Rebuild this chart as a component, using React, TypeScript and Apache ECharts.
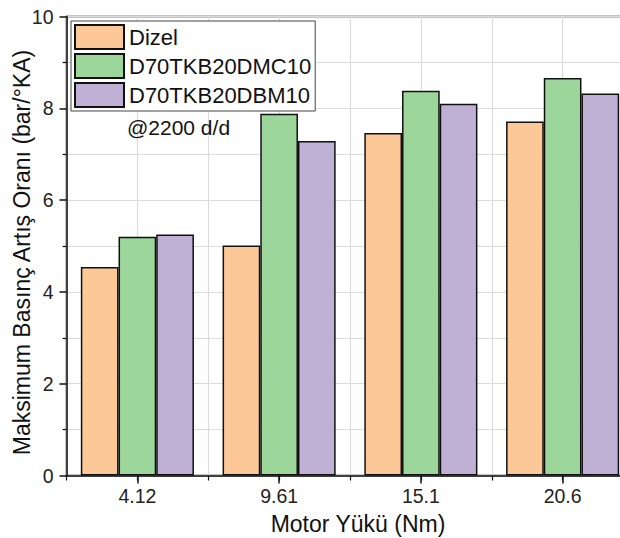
import React, { useEffect, useRef } from "react";
import * as echarts from "echarts";

const categories = ["4.12", "9.61", "15.1", "20.6"];
const seriesNames = ["Dizel", "D70TKB20DMC10", "D70TKB20DBM10"];
const dizel = [4.54, 5.01, 7.46, 7.71];
const dmc10 = [5.2, 7.88, 8.38, 8.66];
const dbm10 = [5.25, 7.29, 8.1, 8.32];
const colors = ["#FDC897", "#9DD69B", "#BFB0D6"];
const yTicks = [0, 2, 4, 6, 8, 10];

const FONT = "Arial, 'Liberation Sans', sans-serif";

export default function App() {
  const ref = useRef<HTMLDivElement>(null);
  useEffect(() => {
    document.body.style.margin = "0";
    const chart = echarts.init(ref.current!, null, { renderer: "svg" });
    const values = [dizel, dmc10, dbm10];
    chart.setOption({
      animation: false,
      backgroundColor: "#ffffff",
      textStyle: { fontFamily: FONT },
      grid: {
        left: 66.5,
        top: 16.5,
        width: 567,
        height: 459,
        outerBoundsMode: "none",
        containLabel: false,
        show: true,
        borderColor: "#111",
        borderWidth: 1.5,
        backgroundColor: "transparent",
      },
      legend: {
        orient: "vertical",
        left: 71,
        top: 21,
        icon: "rect",
        itemWidth: 49,
        itemHeight: 24,
        itemGap: 3,
        padding: [3, 4, 3, 3],
        borderColor: "#444",
        borderWidth: 1,
        backgroundColor: "#fff",
        data: seriesNames,
        textStyle: {
          fontSize: 22,
          color: "#111",
          fontFamily: FONT,
          fontWeight: "normal",
          textBorderWidth: 0,
          textBorderColor: "transparent",
          textShadowBlur: 0,
        },
      },
      xAxis: [
        {
          type: "category",
          data: categories,
          position: "bottom",
          axisLine: { show: true, lineStyle: { color: "#111", width: 1.5 } },
          axisTick: { show: true, alignWithLabel: true, length: 8, lineStyle: { color: "#111", width: 1.5 } },
          axisLabel: { fontSize: 19.5, color: "#222", margin: 10, fontFamily: FONT },
          splitLine: { show: false },
          z: 5,
        },
        {
          type: "value",
          min: 0,
          max: 8,
          interval: 1,
          position: "bottom",
          axisLine: { show: false },
          axisTick: { show: true, length: 5, lineStyle: { color: "#111", width: 1.2 } },
          axisLabel: { show: false },
          splitLine: { show: true, lineStyle: { color: "#dcdcdc", width: 1.2 } },
        },
      ],
      yAxis: {
        type: "value",
        min: 0,
        max: 10,
        interval: 2,
        axisLine: { show: true, lineStyle: { color: "#111", width: 1.5 } },
        axisTick: { show: true, length: 7, lineStyle: { color: "#111", width: 1.5 } },
        minorTick: { show: true, splitNumber: 2, length: 4, lineStyle: { color: "#111", width: 1.2 } },
        splitLine: { show: true, lineStyle: { color: "#dcdcdc", width: 1.2 } },
        minorSplitLine: { show: true, lineStyle: { color: "#dcdcdc", width: 1.2 } },
        axisLabel: {
          fontSize: 19.5,
          color: "#222",
          margin: 13,
          fontFamily: FONT,
          formatter: (v: number) => (yTicks.includes(v) ? String(v) : ""),
        },
      },
      graphic: [
        {
          type: "text",
          left: 127,
          top: 117,
          style: { text: "@2200 d/d", fontSize: 21, fill: "#111", fontFamily: FONT },
          z: 10,
        },
        {
          type: "text",
          x: 22,
          y: 252.5,
          rotation: Math.PI / 2,
          style: {
            text: "Maksimum Basınç Artış Oranı (bar/°KA)",
            fontSize: 23,
            fill: "#111",
            fontFamily: FONT,
            align: "center",
            verticalAlign: "middle",
          },
          z: 10,
        },
        {
          type: "text",
          x: 358,
          y: 524,
          style: {
            text: "Motor Yükü (Nm)",
            fontSize: 23,
            fill: "#111",
            fontFamily: FONT,
            align: "center",
            verticalAlign: "middle",
          },
          z: 10,
        },
      ],
      series: seriesNames.map((name, i) => ({
        name,
        type: "bar",
        xAxisIndex: 0,
        data: values[i],
        barWidth: 37.7,
        barGap: "0%",
        itemStyle: { color: colors[i], borderColor: "#111", borderWidth: 1.5 },
        z: 3,
      })),
    });
    return () => chart.dispose();
  }, []);
  return (
    <div
      ref={ref}
      style={{ position: "absolute", left: 0, top: 0, width: 620, height: 538, overflow: "hidden" }}
    />
  );
}
